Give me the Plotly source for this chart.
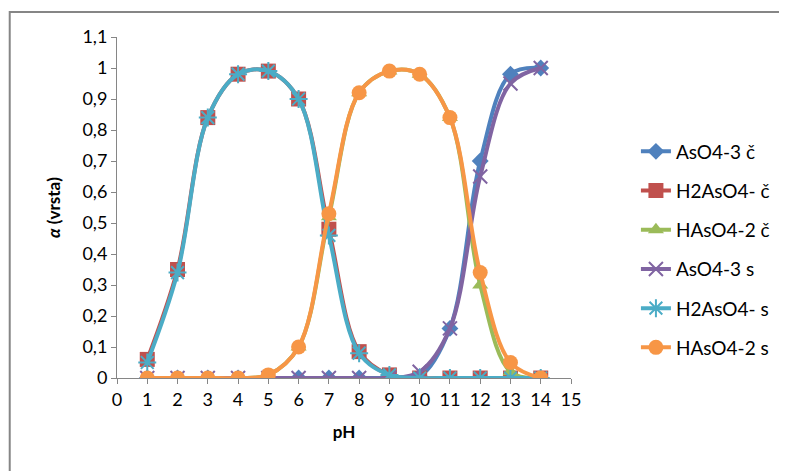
import plotly.graph_objects as go

ph = [1, 2, 3, 4, 5, 6, 7, 8, 9, 10, 11, 12, 13, 14]

aso4_c = [0, 0, 0, 0, 0, 0, 0, 0, 0, 0.005, 0.16, 0.70, 0.98, 1.0]
h2aso4_c = [0.06, 0.35, 0.84, 0.98, 0.99, 0.90, 0.48, 0.085, 0.01, 0, 0, 0, 0, 0]
haso4_c = [0, 0, 0, 0, 0.01, 0.10, 0.52, 0.92, 0.99, 0.98, 0.84, 0.30, 0.02, 0]
aso4_s = [0, 0, 0, 0, 0, 0, 0, 0, 0, 0.02, 0.16, 0.65, 0.95, 1.0]
h2aso4_s = [0.05, 0.34, 0.84, 0.98, 0.99, 0.90, 0.46, 0.08, 0.01, 0, 0, 0, 0, 0]
haso4_s = [0, 0, 0, 0, 0.01, 0.10, 0.53, 0.92, 0.99, 0.98, 0.84, 0.34, 0.05, 0]

names = ["AsO4-3 č", "H2AsO4- č", "HAsO4-2 č", "AsO4-3 s", "H2AsO4- s", "HAsO4-2 s"]
series = [aso4_c, h2aso4_c, haso4_c, aso4_s, h2aso4_s, haso4_s]
colors = ["#4F81BD", "#C0504D", "#9BBB59", "#8064A2", "#4BACC6", "#F79646"]
symbols = ["diamond", "square", "triangle-up", "x-thin-open", "asterisk-open", "circle"]
sizes = [13, 15, 14, 14, 15, 15]

FONT = "Lato"
fig = go.Figure()
for i, (n, s) in enumerate(zip(names, series)):
    marker = dict(symbol=symbols[i], size=sizes[i], color=colors[i])
    if symbols[i].endswith("open"):
        marker["line"] = dict(color=colors[i], width=2)
    else:
        marker["line"] = dict(width=0)
    fig.add_trace(go.Scatter(
        x=ph, y=s, name=n, mode="lines+markers",
        line=dict(color=colors[i], width=4, shape="spline", smoothing=1),
        marker=marker, legendgroup=str(i),
    ))

fig.update_layout(
    width=779, height=463,
    margin=dict(l=109, r=213, t=29, b=93),
    paper_bgcolor="white", plot_bgcolor="white",
    separators=",.",
    font=dict(family=FONT, size=18, color="#000000"),
    showlegend=True,
    legend=dict(x=1.143, y=0.72, xanchor="left", yanchor="top",
                font=dict(family=FONT, size=19), traceorder="grouped",
                tracegroupgap=11.5, bgcolor="rgba(0,0,0,0)"),
    xaxis=dict(range=[0, 15], dtick=1, tick0=0, showgrid=False, zeroline=False,
               showline=True, linecolor="#868686", linewidth=1,
               ticks="outside", ticklen=5, tickcolor="#868686",
               title=dict(text="<b>pH</b>", font=dict(size=17), standoff=17)),
    yaxis=dict(range=[0, 1.1], dtick=0.1, tick0=0, showgrid=False, zeroline=False,
               showline=True, linecolor="#868686", linewidth=1,
               ticks="outside", ticklen=5, tickcolor="#868686",
               title=dict(text="<b><i>α</i> (vrsta)</b>", font=dict(size=17), standoff=17)),
    shapes=[dict(type="rect", xref="paper", yref="paper",
                 x0=-0.2363, x1=1.5, y0=-0.5, y1=1.0733,
                 line=dict(color="#868686", width=2), layer="below")],
)

fig.write_html("out.html")
